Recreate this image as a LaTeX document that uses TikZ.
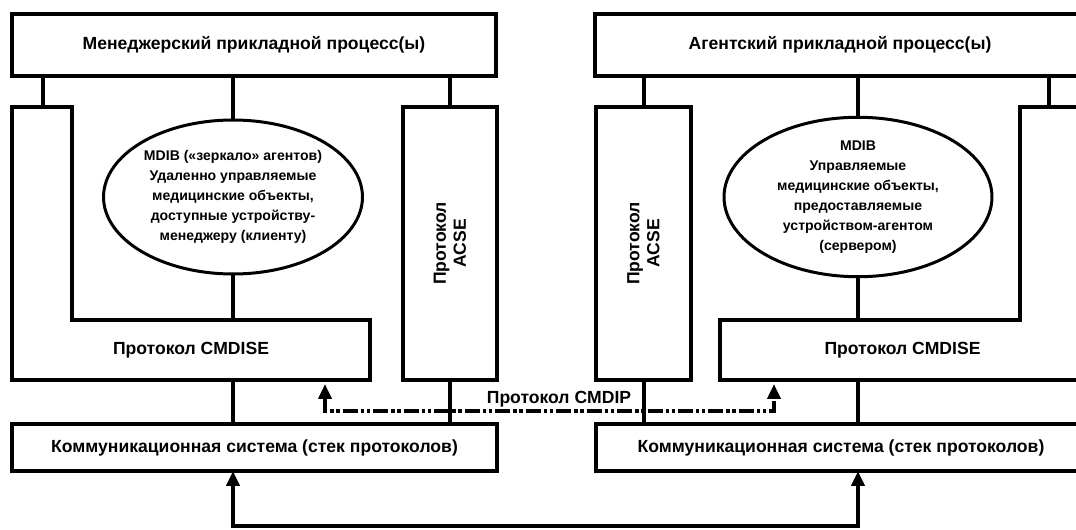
\documentclass[tikz,border=0pt]{standalone}
\usepackage{fontspec}
\setmainfont{Liberation Sans}
\usetikzlibrary{shapes.geometric,arrows.meta}

\tikzset{
  box/.style={draw, line width=0.08cm, inner sep=0pt, outer sep=0pt},
  txt/.style={inner sep=0pt, outer sep=0pt, font=\bfseries\fontsize{10}{11.4}\selectfont},
  mdib/.style={draw, ellipse, line width=0.06cm, inner sep=0pt, outer sep=0pt, align=center,
    font=\bfseries\fontsize{8}{11.4}\selectfont},
  wire/.style={line width=0.08cm},
  cmdip/.style={line width=0.08cm, dash pattern=on 0.3cm off 0.06cm on 0.07cm off 0.05cm on 0.07cm off 0.06cm},
  >={Triangle[length=0.3cm,width=0.26cm]}
}

\begin{document}
\begin{tikzpicture}[x=0.02cm, y=-0.02cm]
    \useasboundingbox (0,0) rectangle (1076,530);
    \clip (0,0) rectangle (1076,530);
    \coordinate (stripL) at (43,107);
    \coordinate (stripR) at (1049,107);
    \coordinate (ipL) at (325,384);
    \coordinate (ipR) at (774,384);
    \coordinate (ipY) at (0,411);
    \coordinate (bot) at (0,526);

    % manager side
    \node[box, txt, minimum width=9.68cm, minimum height=1.24cm] (mgr) at (254,45) {Менеджерский прикладной процесс(ы)};
    \draw[wire] (12,107) -| (72,320) -| (370,380) -- (12,380) -- cycle;
    \node[txt, minimum width=7.16cm, minimum height=1.2cm] (cmdiseL) at (191,350) {Протокол CMDISE};
    \node[mdib, minimum width=5.18cm, minimum height=3.08cm] (mdibL) at (233,197)
      {MDIB («зеркало» агентов)\\Удаленно управляемые\\медицинские объекты,\\доступные устройству-\\менеджеру (клиенту)};
    \node[box, minimum width=1.88cm, minimum height=5.46cm] (acseL) at (450,243.5) {};
    \node[txt, rotate=90, align=center] (acseLtxt) at (acseL) {Протокол\\ACSE};
    \node[box, txt, minimum width=9.7cm, minimum height=0.94cm] (commL) at (254.5,447.5) {Коммуникационная система (стек протоколов)};

    % agent side
    \node[box, txt, minimum width=9.8cm, minimum height=1.24cm] (agt) at (840,45) {Агентский прикладной процесс(ы)};
    \draw[wire] (1090,107) -| (1020,320) -| (720,380) -- (1090,380) -- cycle;
    \node[txt, minimum width=7.3cm, minimum height=1.2cm] (cmdiseR) at (902.5,350) {Протокол CMDISE};
    \node[mdib, minimum width=5.36cm, minimum height=3.08cm] (mdibR) at (858,197)
      {MDIB\\Управляемые\\медицинские объекты,\\предоставляемые\\устройством-агентом\\(сервером)};
    \node[box, minimum width=1.9cm, minimum height=5.46cm] (acseR) at (643.5,243.5) {};
    \node[txt, rotate=90, align=center] (acseRtxt) at (acseR) {Протокол\\ACSE};
    \node[box, txt, minimum width=9.8cm, minimum height=0.94cm] (commR) at (841,447.5) {Коммуникационная система (стек протоколов)};

    % links
    \draw[wire] (mgr.south -| stripL) -- (stripL);
    \draw[wire] (mgr.south -| mdibL) -- (mdibL);
    \draw[wire] (mdibL) -- (mdibL |- cmdiseL.north);
    \draw[wire] (mdibL |- cmdiseL.south) -- (mdibL |- commL.north);
    \draw[wire] (mgr.south -| acseL) -- (acseL);
    \draw[wire] (acseL) -- (acseL |- commL.north);
    \draw[wire] (agt.south -| stripR) -- (stripR);
    \draw[wire] (agt.south -| mdibR) -- (mdibR);
    \draw[wire] (mdibR) -- (mdibR |- cmdiseR.north);
    \draw[wire] (mdibR |- cmdiseR.south) -- (mdibR |- commR.north);
    \draw[wire] (agt.south -| acseR) -- (acseR);
    \draw[wire] (acseR) -- (acseR |- commR.north);
    \draw[<->, cmdip] (ipL) -- (ipL |- ipY) -- (ipR |- ipY) -- (ipR);
    \node[txt] (ipText) at (559,399) {Протокол CMDIP};
    \draw[<->, wire] (commL.south -| mdibL) -- (bot -| mdibL) -- (bot -| mdibR) -- (commR.south -| mdibR);
\end{tikzpicture}
\end{document}
